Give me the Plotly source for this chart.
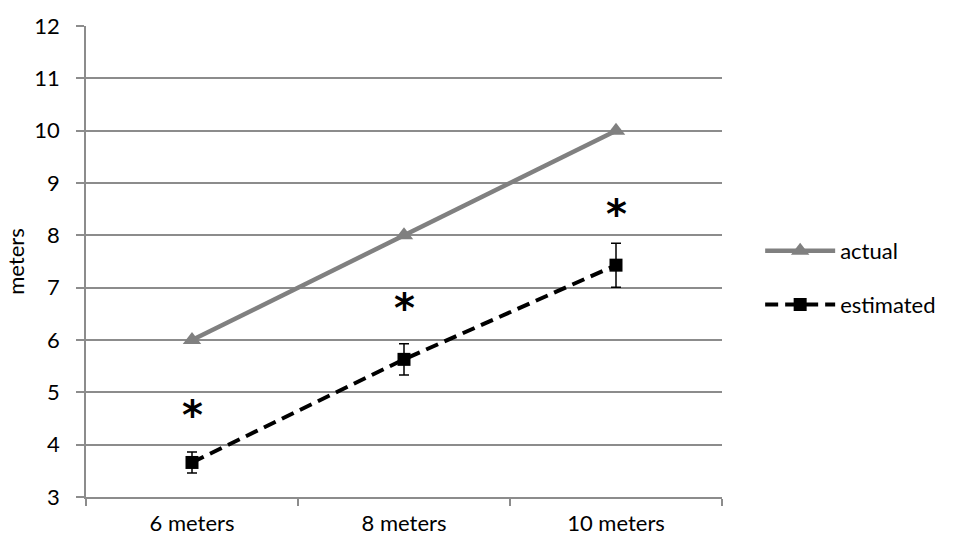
import plotly.graph_objects as go

categories = ["6 meters", "8 meters", "10 meters"]
actual = [6, 8, 10]
estimated = [3.66, 5.63, 7.43]
estimated_err = [0.2, 0.3, 0.42]
star_y = [4.57, 6.62, 8.4]
y_ticks = list(range(3, 13))

GRID = "#8c8c8c"
FONT = "Lato, 'Open Sans', sans-serif"

fig = go.Figure()

fig.add_trace(go.Scatter(
    x=categories, y=actual, name="actual", mode="lines+markers",
    legendgroup="a",
    line=dict(color="#808080", width=4.5),
    marker=dict(symbol="triangle-up", size=16, color="#808080"),
))

fig.add_trace(go.Scatter(
    x=categories, y=estimated, name="estimated", mode="lines+markers",
    legendgroup="e",
    line=dict(color="black", width=4, dash="13px,7px"),
    marker=dict(symbol="square", size=13, color="black"),
    error_y=dict(type="data", array=estimated_err, visible=True,
                 color="black", thickness=1.5, width=5),
))

# significance markers above the estimated series
for c, y in zip(categories, star_y):
    fig.add_annotation(x=c, y=y, text="<b>*</b>", showarrow=False,
                       font=dict(family="DejaVu Sans", size=40, color="black"),
                       yanchor="middle")

fig.update_layout(
    width=953, height=548,
    margin=dict(l=86, r=231, t=17, b=51),
    plot_bgcolor="white", paper_bgcolor="white",
    font=dict(family=FONT, size=22, color="black"),
    showlegend=True,
    legend=dict(x=1.06, y=0.465, xanchor="left", yanchor="middle",
                font=dict(size=22), itemwidth=70, tracegroupgap=22,
                traceorder="grouped", bgcolor="rgba(0,0,0,0)"),
    xaxis=dict(
        type="category", range=[-0.5, 2.5], tickson="boundaries",
        showgrid=False, showline=True, linecolor=GRID, linewidth=1.5,
        ticks="outside", ticklen=7, tickcolor=GRID, tickwidth=1.5,
        tickfont=dict(size=22), ticklabelstandoff=6,
    ),
    yaxis=dict(
        range=[3, 12], tickvals=y_ticks, showgrid=True, gridcolor=GRID,
        gridwidth=1.5, showline=True, linecolor=GRID, linewidth=1.5,
        ticks="outside", ticklen=8, tickcolor=GRID, tickwidth=1.5,
        zeroline=False, tickfont=dict(size=22), ticklabelstandoff=12,
        title=dict(text="meters", font=dict(size=22), standoff=4),
    ),
)

fig.write_html("out.html")
